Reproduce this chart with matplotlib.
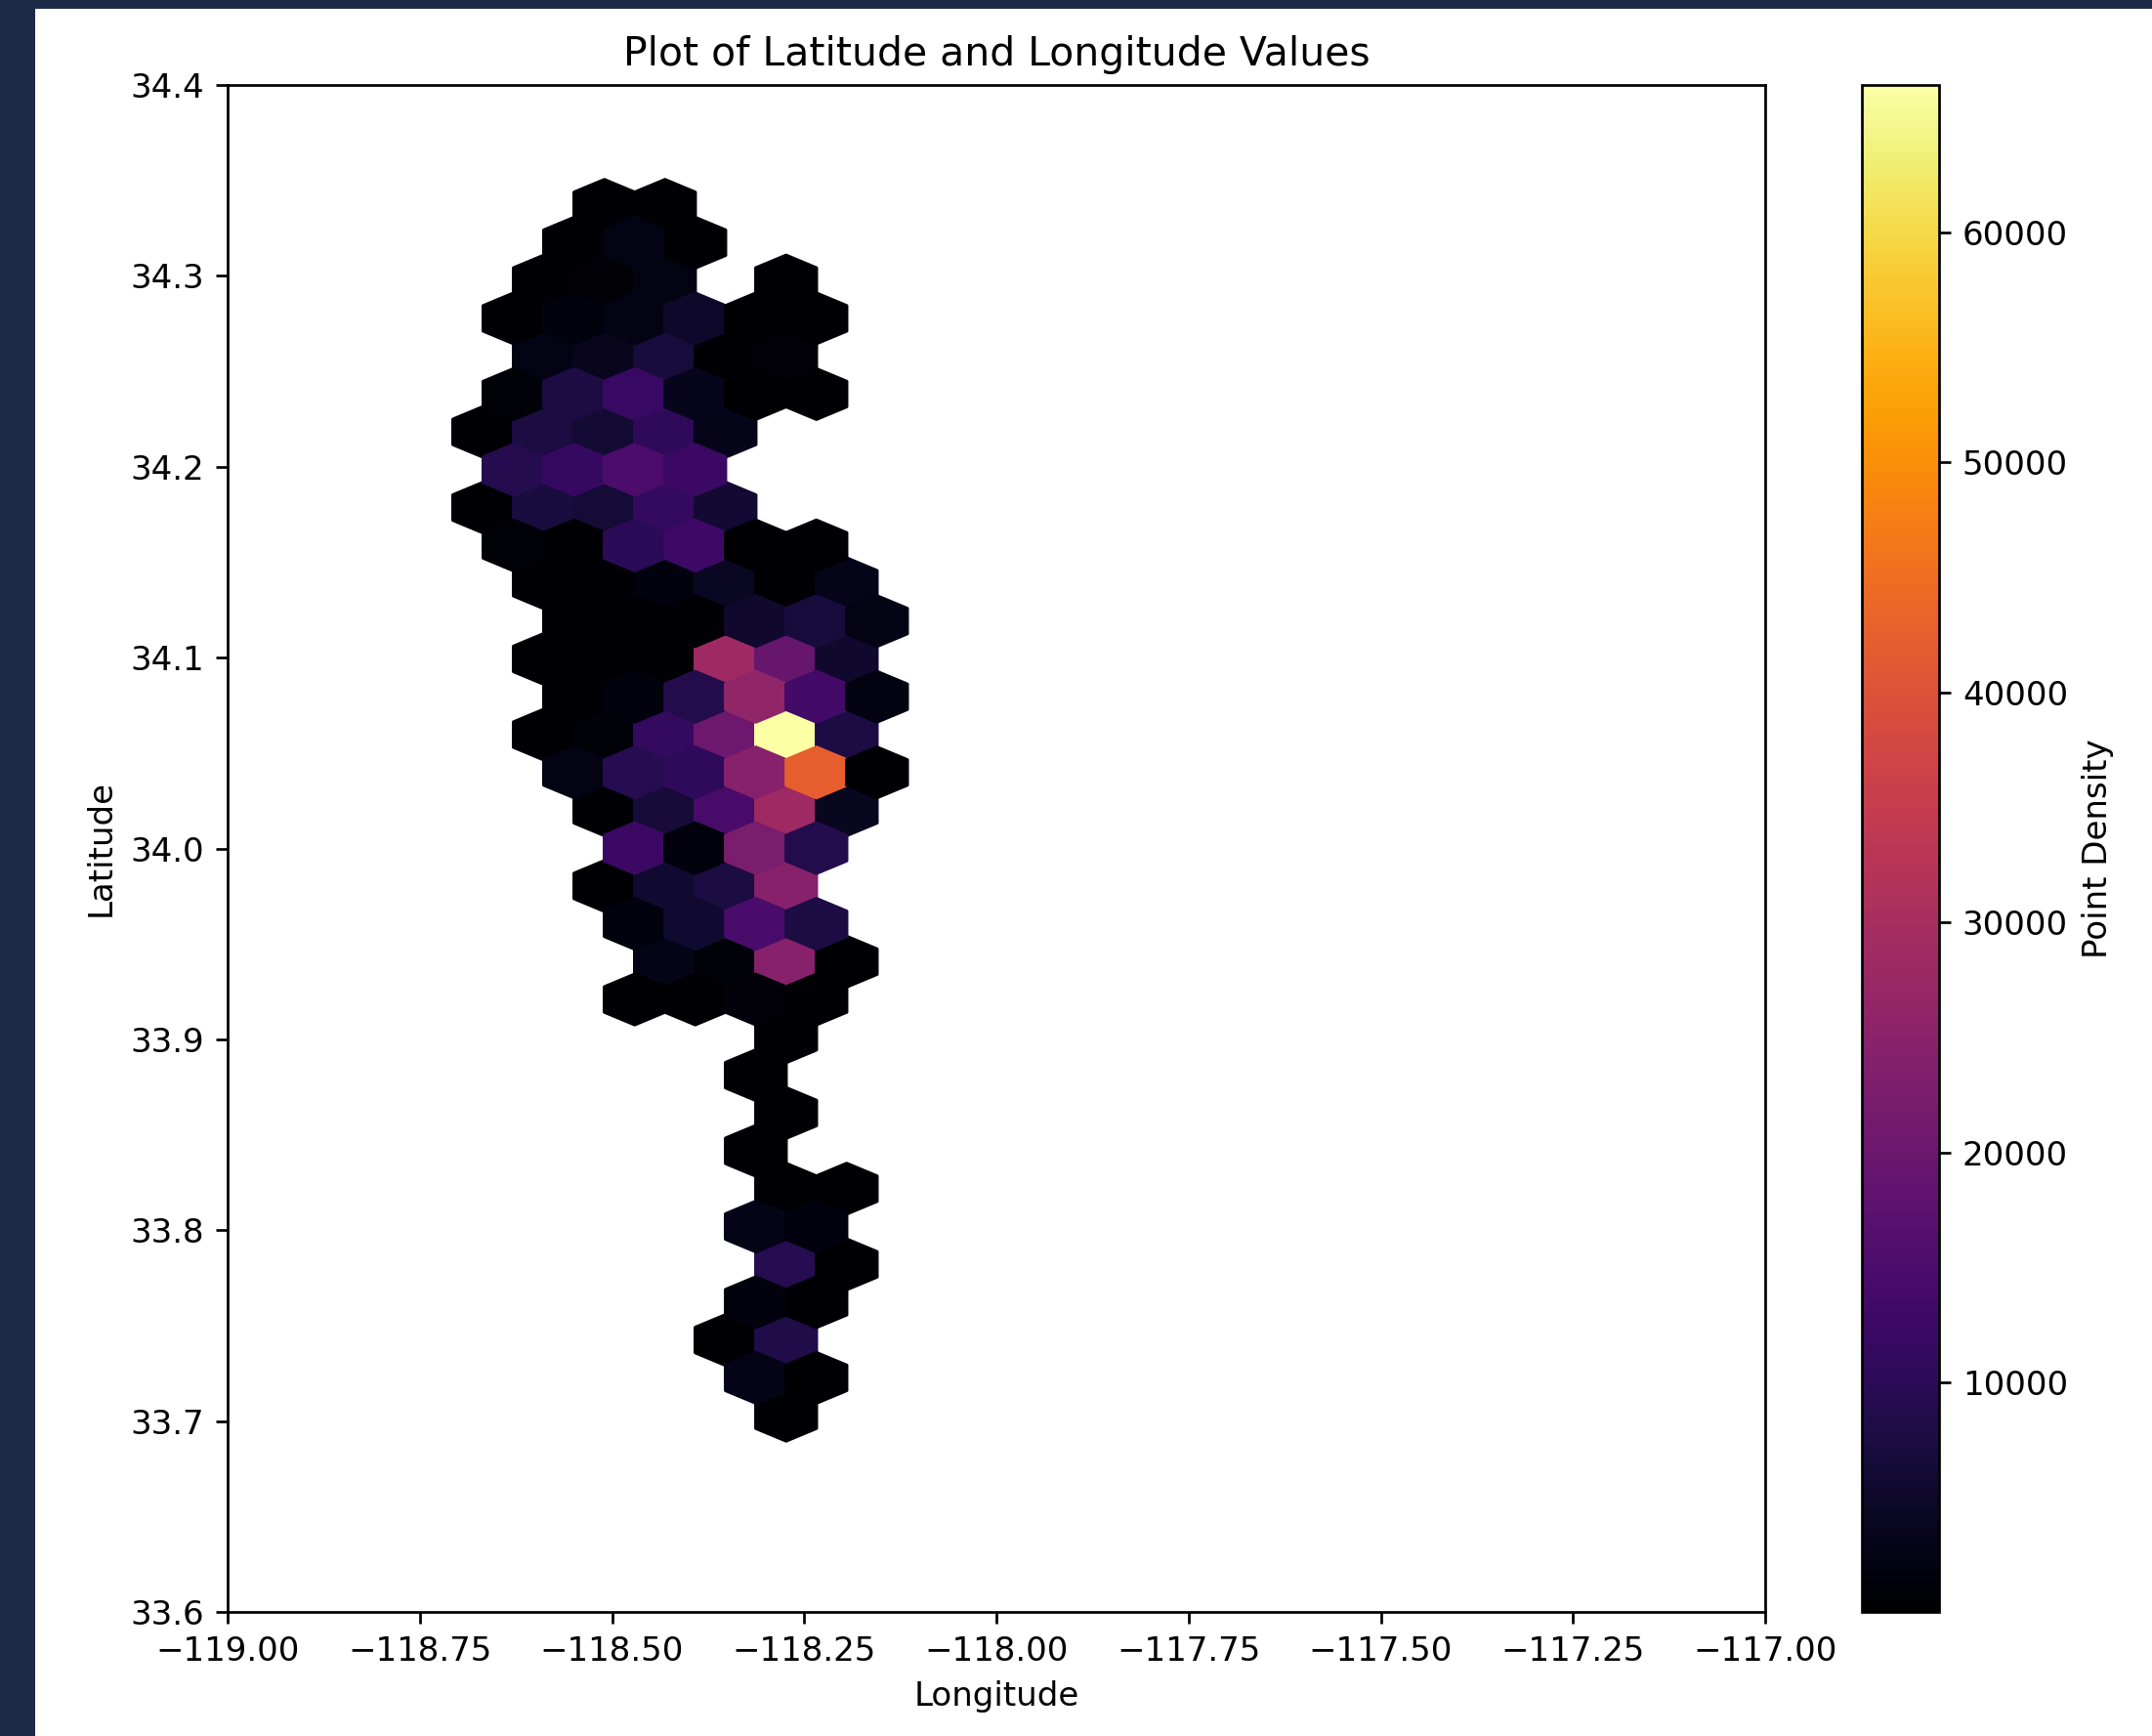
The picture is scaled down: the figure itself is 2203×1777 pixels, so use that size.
import matplotlib
matplotlib.use('Agg')
import matplotlib.pyplot as plt
import numpy as np

# hex-bin centres (longitude / latitude) and the point count in each cell
hex_lon = [
    -118.5099, -118.4311,
    -118.5493, -118.4705, -118.3917,
    -118.5887, -118.5099, -118.4311, -118.2735,
    -118.6281, -118.5493, -118.4705, -118.3917, -118.3129, -118.2341,
    -118.5887, -118.5099, -118.4311, -118.3523, -118.2735,
    -118.6281, -118.5493, -118.4705, -118.3917, -118.3129, -118.2341,
    -118.6675, -118.5887, -118.5099, -118.4311, -118.3523,
    -118.6281, -118.5493, -118.4705, -118.3917,
    -118.6675, -118.5887, -118.5099, -118.4311, -118.3523,
    -118.6281, -118.5493, -118.4705, -118.3917, -118.3129, -118.2341,
    -118.5887, -118.5099, -118.4311, -118.3523, -118.2735, -118.1947,
    -118.5493, -118.4705, -118.3917, -118.3129, -118.2341, -118.1553,
    -118.5887, -118.5099, -118.4311, -118.3523, -118.2735, -118.1947,
    -118.5493, -118.4705, -118.3917, -118.3129, -118.2341, -118.1553,
    -118.5887, -118.5099, -118.4311, -118.3523, -118.2735, -118.1947,
    -118.5493, -118.4705, -118.3917, -118.3129, -118.2341, -118.1553,
    -118.5099, -118.4311, -118.3523, -118.2735, -118.1947,
    -118.4705, -118.3917, -118.3129, -118.2341,
    -118.5099, -118.4311, -118.3523, -118.2735,
    -118.4705, -118.3917, -118.3129, -118.2341,
    -118.4311, -118.3523, -118.2735, -118.1947,
    -118.4705, -118.3917, -118.3129, -118.2341,
    -118.2735,
    -118.3129,
    -118.2735,
    -118.3129,
    -118.2735, -118.1947,
    -118.3129, -118.2341,
    -118.2735, -118.1947,
    -118.3129, -118.2341,
    -118.3523, -118.2735,
    -118.3129, -118.2341,
    -118.2735,
]

hex_lat = [
    34.3372, 34.3372,
    34.3174, 34.3174, 34.3174,
    34.2976, 34.2976, 34.2976, 34.2976,
    34.2777, 34.2777, 34.2777, 34.2777, 34.2777, 34.2777,
    34.2579, 34.2579, 34.2579, 34.2579, 34.2579,
    34.2381, 34.2381, 34.2381, 34.2381, 34.2381, 34.2381,
    34.2183, 34.2183, 34.2183, 34.2183, 34.2183,
    34.1984, 34.1984, 34.1984, 34.1984,
    34.1786, 34.1786, 34.1786, 34.1786, 34.1786,
    34.1588, 34.1588, 34.1588, 34.1588, 34.1588, 34.1588,
    34.1390, 34.1390, 34.1390, 34.1390, 34.1390, 34.1390,
    34.1191, 34.1191, 34.1191, 34.1191, 34.1191, 34.1191,
    34.0993, 34.0993, 34.0993, 34.0993, 34.0993, 34.0993,
    34.0795, 34.0795, 34.0795, 34.0795, 34.0795, 34.0795,
    34.0597, 34.0597, 34.0597, 34.0597, 34.0597, 34.0597,
    34.0398, 34.0398, 34.0398, 34.0398, 34.0398, 34.0398,
    34.0200, 34.0200, 34.0200, 34.0200, 34.0200,
    34.0002, 34.0002, 34.0002, 34.0002,
    33.9804, 33.9804, 33.9804, 33.9804,
    33.9605, 33.9605, 33.9605, 33.9605,
    33.9407, 33.9407, 33.9407, 33.9407,
    33.9209, 33.9209, 33.9209, 33.9209,
    33.9011,
    33.8812,
    33.8614,
    33.8416,
    33.8218, 33.8218,
    33.8020, 33.8020,
    33.7821, 33.7821,
    33.7623, 33.7623,
    33.7425, 33.7425,
    33.7227, 33.7227,
    33.7028,
]

hex_count = [
    420, 380,
    350, 2600, 450,
    300, 600, 2300, 200,
    250, 1400, 2600, 5000, 150, 100,
    2500, 3600, 6800, 300, 1200,
    1000, 7600, 11800, 3300, 100, 40,
    200, 7300, 6200, 10600, 3000,
    9000, 11500, 15000, 12300,
    200, 7200, 6400, 11300, 5800,
    900, 500, 10000, 12800, 150, 120,
    200, 300, 1600, 4000, 250, 3000,
    150, 250, 400, 5300, 7000, 2400,
    120, 200, 350, 28500, 19300, 5300,
    200, 1500, 8700, 26000, 13600, 2000,
    150, 1000, 11300, 20500, 66400, 7600,
    2500, 9300, 10600, 24500, 42500, 100,
    300, 6600, 14300, 28500, 3800,
    12300, 1500, 22500, 8600,
    150, 5600, 7300, 24500,
    1600, 5600, 14600, 7600,
    2700, 900, 24500, 120,
    150, 200, 1300, 300,
    400,
    350,
    300,
    250,
    500, 100,
    2700, 1700,
    9300, 200,
    1700, 250,
    150, 8300,
    2700, 200,
    300,
]

W, H, DPI = 2203, 1777, 245
fig = plt.figure(figsize=(W / DPI, H / DPI), dpi=DPI)

# screenshot look: navy frame on the left / top, white panel
fig.patch.set_facecolor('#1c2a47')
fig.add_artist(plt.Rectangle((36 / W, 0), 1, 1 - 9 / H, transform=fig.transFigure,
                             facecolor='white', edgecolor='none', zorder=-10))

ax = fig.add_axes([233 / W, 1 - 1650 / H, (1807 - 233) / W, (1650 - 87) / H])
cax = fig.add_axes([1906 / W, 1 - 1650 / H, (1985 - 1906) / W, (1650 - 87) / H])

# hex grid: 7 x 16 cells spanning the data
xmin, xmax = -118.6675, -118.1159
ymin, ymax = 33.7028, 34.3372
hb = ax.hexbin(hex_lon, hex_lat, C=hex_count, reduce_C_function=np.sum,
               gridsize=(7, 16), extent=(xmin, xmax, ymin, ymax), cmap='inferno')

ax.set_xlim(-119, -117)
ax.set_ylim(33.6, 34.4)
ax.set_xticks(np.arange(-119, -116.99, 0.25))
ax.set_yticks(np.arange(33.6, 34.41, 0.1))
ax.set_title('Plot of Latitude and Longitude Values')
ax.set_xlabel('Longitude')
ax.set_ylabel('Latitude')

cb = fig.colorbar(hb, cax=cax)
cb.set_label('Point Density')

fig.savefig('out.png', dpi=DPI)
